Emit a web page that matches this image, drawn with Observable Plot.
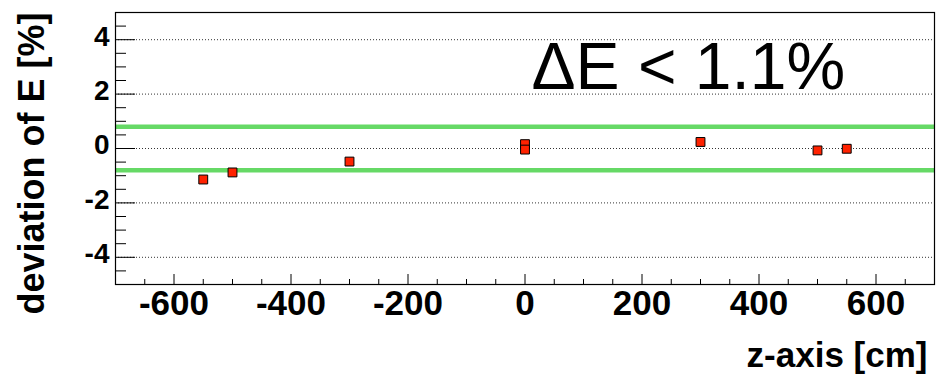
<!DOCTYPE html>
<html>
<head>
<meta charset="utf-8">
<script src="https://cdn.jsdelivr.net/npm/d3@7"></script>
<script src="https://cdn.jsdelivr.net/npm/@observablehq/plot@0.6"></script>
<style>
  html, body { margin: 0; padding: 0; background: #fff; }
  #chart svg { display: block; }
</style>
</head>
<body>
<div id="chart"></div>
<script>
// Energy deviation measured at several positions along the z axis
const zPositions = [-550, -500, -300, 0, 0, 300, 500, 550];
const deviations = [-1.14, -0.88, -0.48, 0.16, -0.04, 0.24, -0.07, -0.01];

// Tolerance band (±0.8 %)
const bandLimits = [-0.8, 0.8];

// Axis ticks
const xMajorTicks = [-600, -400, -200, 0, 200, 400, 600];
const xMinorTicks = d3.range(-650, 700, 50).filter(v => v % 200 !== 0);
const yMajorTicks = [-4, -2, 0, 2, 4];
const yMinorTicks = d3.range(-4.5, 5, 0.5).filter(v => v % 2 !== 0);

const annotation = "\u0394E < 1.1%";
const xTitle = "z-axis [cm]";
const yTitle = "deviation of E [%]";

const points = zPositions.map((z, i) => ({z, dev: deviations[i]}));

const font = "'Liberation Sans', Arial, Helvetica, sans-serif";
const W = 938, H = 374;
const mL = 115, mR = 4, mT = 12, mB = 90;
const frameW = W - mL - mR, frameH = H - mT - mB;

const chart = Plot.plot({
  width: W,
  height: H,
  marginLeft: mL,
  marginRight: mR,
  marginTop: mT,
  marginBottom: mB,
  style: {fontFamily: font, background: "#fff", color: "#000"},
  x: {domain: [-700, 700], axis: null},
  y: {domain: [-5, 5], axis: null},
  marks: [
    // dotted horizontal grid
    Plot.gridY(yMajorTicks, {stroke: "#333", strokeOpacity: 1, strokeWidth: 1, strokeDasharray: "1,2"}),
    // tolerance band edges
    Plot.ruleY(bandLimits, {stroke: "#66d966", strokeWidth: 4.5}),
    // inward ticks on the left and bottom edges
    Plot.tickY(yMajorTicks, {y: d => d, stroke: "#000", insetRight: frameW - 20}),
    Plot.tickY(yMinorTicks, {y: d => d, stroke: "#000", insetRight: frameW - 11}),
    Plot.tickX(xMajorTicks, {x: d => d, stroke: "#000", insetTop: frameH - 10}),
    Plot.tickX(xMinorTicks, {x: d => d, stroke: "#000", insetTop: frameH - 5}),
    Plot.frame({stroke: "#000", strokeWidth: 1.2}),
    // tick labels
    Plot.axisX({ticks: xMajorTicks, tickSize: 0, tickPadding: 6, tickFormat: d => String(d),
      fontSize: 35, fontWeight: "bold", label: null}),
    Plot.axisY({ticks: yMajorTicks, tickSize: 0, tickPadding: 6, tickFormat: d => String(d),
      fontSize: 28, fontWeight: "bold", label: null, dy: -3}),
    // measurements
    Plot.dot(points, {x: "z", y: "dev", symbol: "square", r: 5,
      fill: "#ff2200", stroke: "#000", strokeWidth: 1}),
    // annotation
    Plot.text([annotation], {frameAnchor: "top-left", textAnchor: "start", lineAnchor: "bottom",
      dx: 416, dy: 76, fontSize: 66, fill: "#000"}),
    // axis titles
    Plot.text([xTitle], {frameAnchor: "bottom-right", textAnchor: "end", lineAnchor: "bottom",
      dx: -7, dy: 82, fontSize: 35, fontWeight: "bold", fill: "#000"}),
    Plot.text([yTitle], {frameAnchor: "top-left", textAnchor: "end", lineAnchor: "bottom",
      rotate: -90, dx: -72, dy: 0, fontSize: 36, fontWeight: "bold", fill: "#000"})
  ]
});

document.getElementById("chart").append(chart);
</script>
</body>
</html>
